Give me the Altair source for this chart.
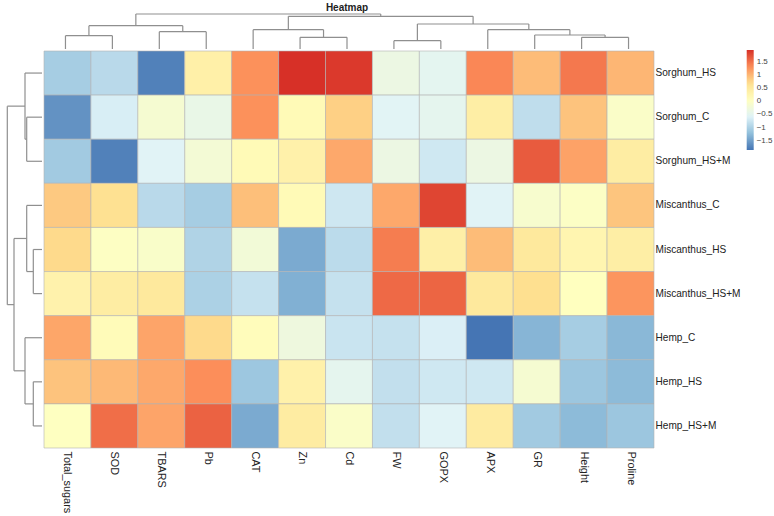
import altair as alt
import pandas as pd

rows = ["Sorghum_HS", "Sorghum_C", "Sorghum_HS+M", "Miscanthus_C", "Miscanthus_HS",
        "Miscanthus_HS+M", "Hemp_C", "Hemp_HS", "Hemp_HS+M"]
cols = ["Total_sugars", "SOD", "TBARS", "Pb", "CAT", "Zn", "Cd", "FW", "GOPX",
        "APX", "GR", "Height", "Proline"]

sorghum_hs = [-1.05, -0.90, -1.75, 0.35, 1.28, 1.94, 1.88, -0.35, -0.50, 1.35, 0.95, 1.45, 1.00]
sorghum_c = [-1.60, -0.65, -0.15, -0.40, 1.28, 0.15, 0.80, -0.55, -0.48, 0.40, -0.85, 0.90, -0.05]
sorghum_hsm = [-1.08, -1.75, -0.57, -0.20, 0.15, 0.33, 1.10, -0.35, -0.72, -0.35, 1.65, 1.15, 0.42]
miscanthus_c = [0.85, 0.65, -0.90, -1.05, 0.93, 0.15, -0.73, 1.10, 1.80, -0.57, -0.12, -0.02, 0.88]
miscanthus_hs = [0.72, 0.00, -0.07, -0.97, -0.22, -1.40, -0.88, 1.42, 0.37, 0.95, 0.50, 0.25, 0.40]
miscanthus_hsm = [0.30, 0.42, 0.50, -1.00, -0.80, -1.35, -0.80, 1.55, 1.58, 0.50, 0.68, 0.05, 1.25]
hemp_c = [1.12, 0.12, 1.13, 0.72, 0.10, -0.30, -0.77, -0.80, -0.63, -1.85, -1.30, -1.05, -1.28]
hemp_hs = [0.90, 0.97, 1.10, 1.30, -1.12, 0.33, -0.48, -0.83, -0.72, -0.72, -0.15, -1.13, -1.25]
hemp_hsm = [0.02, 1.52, 1.13, 1.60, -1.40, 0.43, -0.05, -0.83, -0.57, 0.45, -1.08, -1.25, -1.13]
matrix = [sorghum_hs, sorghum_c, sorghum_hsm, miscanthus_c, miscanthus_hs,
          miscanthus_hsm, hemp_c, hemp_hs, hemp_hsm]

# column tree: (child a, child b, merge height); leaves 0..12, merges numbered from 13
col_merges = [(0, 1, 13.3), (2, 3, 17.3), (13, 14, 23.3), (5, 6, 11.7), (4, 16, 19.3),
              (7, 8, 8.3), (11, 12, 11.7), (10, 19, 14.0), (9, 20, 19.3), (18, 21, 25.0),
              (17, 22, 32.7), (15, 23, 35.0)]
# row tree: leaves 0..8, merges numbered from 9
row_merges = [(1, 2, 15.3), (0, 9, 17.0), (4, 5, 8.7), (3, 11, 15.3), (7, 8, 8.7),
              (6, 13, 17.0), (12, 14, 28.0), (10, 15, 34.7)]

palette = ["#4575B4", "#91BFDB", "#E0F3F8", "#FFFFBF", "#FEE090", "#FC8D59", "#D73027"]
legend_values = [-1.5, -1, -0.5, 0, 0.5, 1, 1.5]

vmin = min(min(r) for r in matrix)
vmax = max(max(r) for r in matrix)
domain = [vmin + (vmax - vmin) * k / 6 for k in range(7)]


def dendro_segments(n, merges):
    pos = {i: i + 0.5 for i in range(n)}
    hgt = {i: 0.0 for i in range(n)}
    segs = []
    for k, (a, b, h) in enumerate(merges):
        for c in (a, b):
            segs.append(dict(p1=pos[c], p2=pos[c], h1=hgt[c], h2=h))
        segs.append(dict(p1=pos[a], p2=pos[b], h1=h, h2=h))
        pos[n + k] = (pos[a] + pos[b]) / 2
        hgt[n + k] = h
    return pd.DataFrame(segs)


top_df = dendro_segments(len(cols), col_merges)
left_df = dendro_segments(len(rows), row_merges)
heat_df = pd.DataFrame([dict(row=r, col=c, value=matrix[i][j])
                        for i, r in enumerate(rows) for j, c in enumerate(cols)])

W, H = 610, 397
TREE_W, TREE_H = 37, 35
line_color = "#8f8f8f"

top_tree = alt.Chart(top_df).mark_rule(color=line_color, strokeWidth=1.2).encode(
    x=alt.X("p1:Q", scale=alt.Scale(domain=[0, len(cols)], nice=False, zero=False), axis=None),
    x2="p2:Q",
    y=alt.Y("h1:Q", scale=alt.Scale(domain=[0, 35], nice=False), axis=None),
    y2="h2:Q",
).properties(width=W, height=TREE_H,
             title=alt.TitleParams("Heatmap", fontSize=10, fontWeight="bold",
                                   anchor="middle", offset=0, color="#222222"))

spacer = alt.Chart(pd.DataFrame({"a": [0]})).mark_rect(opacity=0).encode(
    x=alt.value(0), x2=alt.value(TREE_W), y=alt.value(0), y2=alt.value(TREE_H)
).properties(width=TREE_W, height=TREE_H)

left_tree = alt.Chart(left_df).mark_rule(color=line_color, strokeWidth=1.2).encode(
    x=alt.X("h1:Q", scale=alt.Scale(domain=[0, 37], reverse=True, nice=False), axis=None),
    x2="h2:Q",
    y=alt.Y("p1:Q", scale=alt.Scale(domain=[0, len(rows)], reverse=True, nice=False, zero=False),
            axis=None),
    y2="p2:Q",
).properties(width=TREE_W, height=H)

heat = alt.Chart(heat_df).mark_rect(stroke="#b3b3b3", strokeWidth=0.6).encode(
    x=alt.X("col:N", sort=cols, scale=alt.Scale(paddingInner=0, paddingOuter=0),
            axis=alt.Axis(orient="bottom", title=None, labelAngle=90, domain=False, ticks=False,
                          labelPadding=3, labelFontSize=10.9, labelColor="#222222")),
    y=alt.Y("row:N", sort=rows, scale=alt.Scale(paddingInner=0, paddingOuter=0),
            axis=alt.Axis(orient="right", title=None, domain=False, ticks=False,
                          labelPadding=1, labelFontSize=10.1, labelColor="#222222")),
    color=alt.Color("value:Q",
                    scale=alt.Scale(domain=domain, range=palette, nice=False, zero=False,
                                    interpolate="rgb"),
                    legend=alt.Legend(orient="none", legendX=741.7, legendY=36, title=None,
                                      direction="vertical", values=legend_values, format=".1~f",
                                      gradientLength=100, gradientThickness=7,
                                      gradientStrokeWidth=0, labelFontSize=8,
                                      labelColor="#444444", labelOffset=3,
                                      labelOverlap=False, padding=0)),
).properties(width=W, height=H)

chart = alt.vconcat(
    alt.hconcat(spacer, top_tree, spacing=0),
    alt.hconcat(left_tree, heat, spacing=0),
    spacing=0,
).properties(
    padding={"left": 5, "top": 3, "right": 0, "bottom": 0},
    background="white",
).configure(font="Liberation Sans").configure_view(strokeWidth=0, stroke="transparent")

chart.save("out.html", embed_options={"renderer": "svg", "actions": False})
